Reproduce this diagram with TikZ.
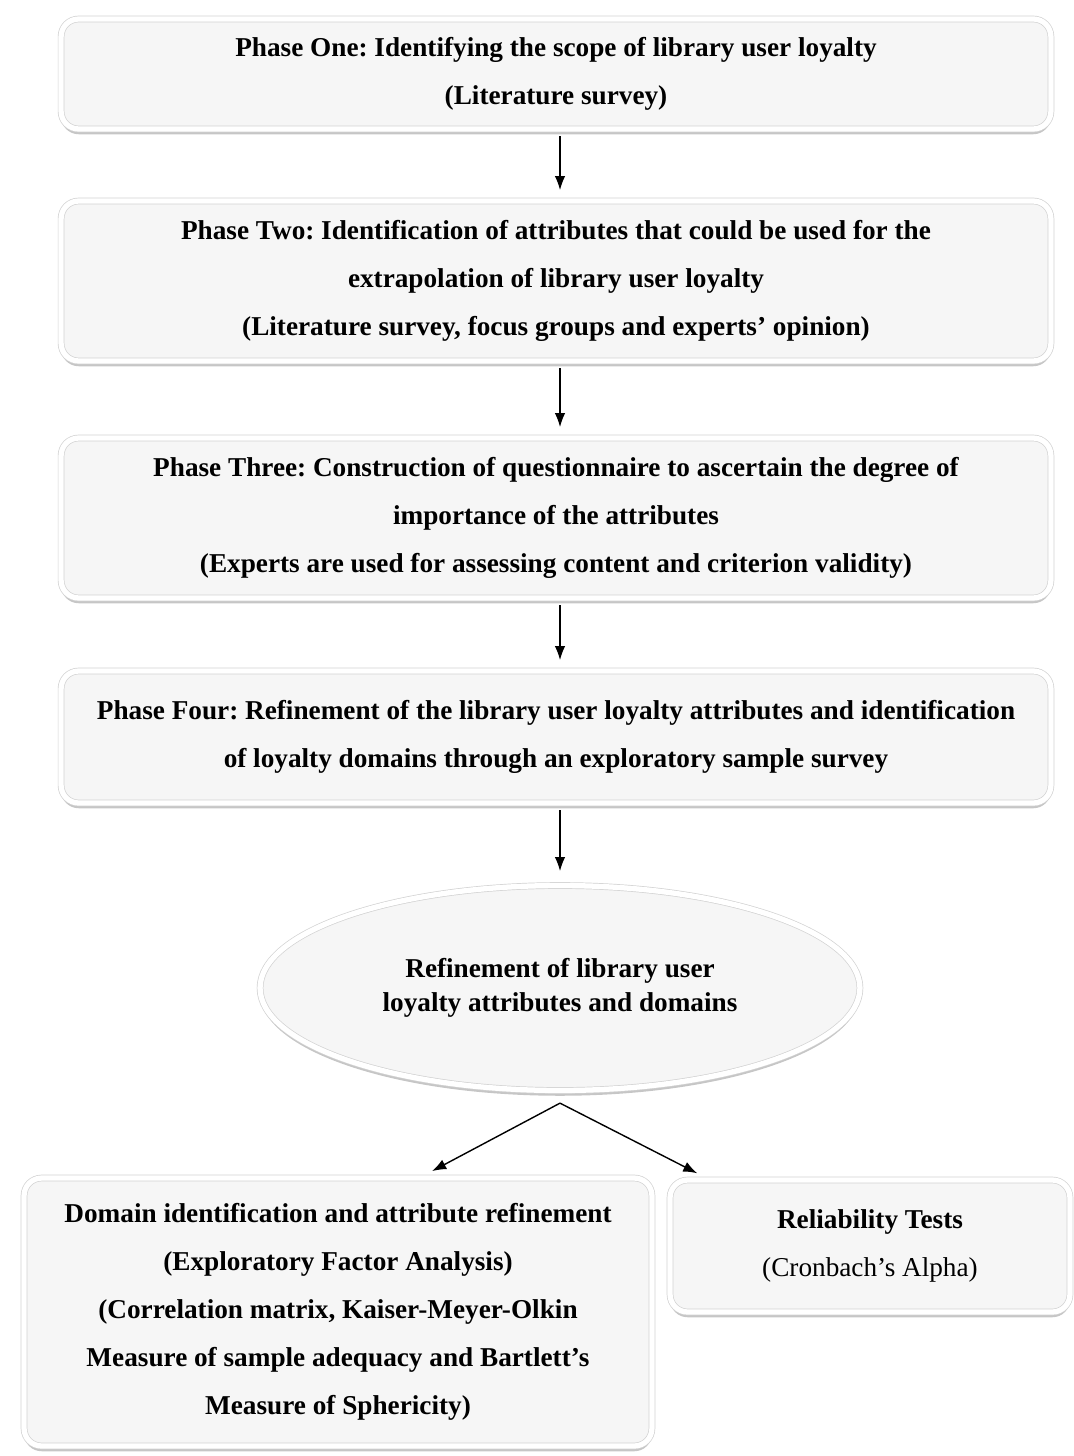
\documentclass[tikz,border=0pt]{standalone}
\usepackage{fontspec}
\setmainfont{Liberation Serif}
\usepackage{tikz}
\usetikzlibrary{positioning, calc, shapes.geometric, shadows, arrows.meta}
\frenchspacing

\tikzset{
    phase box/.style={
        rectangle, rounded corners=10pt, align=center,
        draw=gray!35, double=white, double distance=3pt,
        fill=gray!7, inner sep=0pt,
        drop shadow={opacity=0.45, shadow xshift=0pt, shadow yshift=-3pt},
        font=\fontsize{15.5}{27.3}\selectfont\bfseries
    },
    result ellipse/.style={
        ellipse, align=center,
        draw=gray!35, double=white, double distance=3pt,
        fill=gray!7, inner sep=0pt,
        drop shadow={opacity=0.45, shadow xshift=0pt, shadow yshift=-3pt},
        font=\fontsize{15.5}{19.5}\selectfont\bfseries
    },
    flow/.style={-{Latex[length=8pt,width=6pt]}, line width=0.8pt}
}

\begin{document}
\begin{tikzpicture}[x=0.02cm, y=-0.02cm]
\useasboundingbox (0,0) rectangle (1074,1456);

% phases
\node[phase box, minimum width=19.8cm, minimum height=2.2cm] (p1) at (556,74)
    {Phase One: Identifying the scope of library user loyalty\\
     (Literature survey)};
\node[phase box, minimum width=19.8cm, minimum height=3.2cm] (p2) at (556,281)
    {Phase Two: Identification of attributes that could be used for the\\
     extrapolation of library user loyalty\\
     (Literature survey, focus groups and experts' opinion)};
\node[phase box, minimum width=19.8cm, minimum height=3.2cm] (p3) at (556,518)
    {Phase Three: Construction of questionnaire to ascertain the degree of\\
     importance of the attributes\\
     (Experts are used for assessing content and criterion validity)};
\node[phase box, minimum width=19.8cm, minimum height=2.64cm] (p4) at (556,737)
    {Phase Four: Refinement of the library user loyalty attributes and identification\\
     of loyalty domains through an exploratory sample survey};

% outcome
\node[result ellipse, minimum width=12cm, minimum height=4.1cm] (ref) at (560,988)
    {Refinement of library user\\ loyalty attributes and domains};

% analyses
\node[phase box, minimum width=12.56cm, minimum height=5.36cm] (dom) at (338,1312)
    {Domain identification and attribute refinement\\
     (Exploratory Factor Analysis)\\
     (Correlation matrix, Kaiser-Meyer-Olkin\\
     Measure of sample adequacy and Bartlett's\\
     Measure of Sphericity)};
\node[phase box, minimum width=8cm, minimum height=2.64cm] (rel) at (870,1246)
    {Reliability Tests\\ \mdseries(Cronbach's Alpha)};

\foreach \a/\b in {p1/p2, p2/p3, p3/p4} {
    \draw[flow, shorten <=4pt, shorten >=6pt] (\a.south -| 560,0) -- (\b.north -| 560,0);
}
\draw[flow, shorten <=4pt, shorten >=8pt] (p4.south -| 560,0) -- (ref.north);

\coordinate (fork) at ($(ref.south)+(0,-7pt)$);
\draw[flow, shorten >=8pt] (fork) -- ($(dom.north west)!0.63!(dom.north east)$);
\draw[flow, shorten >=8pt] (fork) -- ($(rel.north west)!0.1!(rel.north east)$);
\end{tikzpicture}
\end{document}
